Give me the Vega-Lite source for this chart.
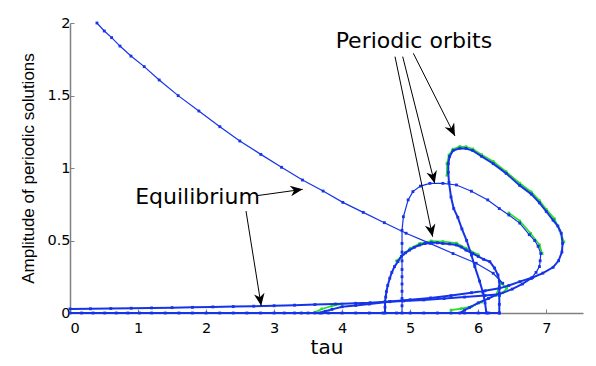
{
  "$schema": "https://vega.github.io/schema/vega-lite/v6.json",
  "autosize": {"type": "none"},
  "padding": {"left": 70, "top": 23, "right": 13, "bottom": 53},
  "width": 513,
  "height": 290,
  "background": "white",
  "config": {
    "view": {"stroke": null},
    "axis": {
      "grid": false,
      "domainColor": "#808080",
      "domainWidth": 1.5,
      "tickColor": "#808080",
      "tickSize": -4,
      "labelColor": "#000000",
      "labelFont": "DejaVu Sans",
      "labelFontSize": 14.5,
      "titleColor": "#000000",
      "titleFontWeight": "normal"
    }
  },
  "datasets": {
    "curves": [
      {"s":"A","x":0.396,"y":2.0},{"s":"A","x":0.504,"y":1.945},{"s":"A","x":0.612,"y":1.899},{"s":"A","x":0.734,"y":1.841},{"s":"A","x":0.896,"y":1.772},{"s":"A","x":1.091,"y":1.699},{"s":"A","x":1.311,"y":1.607},{"s":"A","x":1.59,"y":1.499},{"s":"A","x":1.894,"y":1.393},{"s":"A","x":2.203,"y":1.285},{"s":"A","x":2.496,"y":1.186},{"s":"A","x":2.805,"y":1.094},{"s":"A","x":3.109,"y":1.005},{"s":"A","x":3.417,"y":0.917},{"s":"A","x":3.72,"y":0.841},{"s":"A","x":4.01,"y":0.763},{"s":"A","x":4.31,"y":0.694},{"s":"A","x":4.62,"y":0.623},{"s":"A","x":4.94,"y":0.55},{"s":"A","x":5.29,"y":0.48},{"s":"A","x":5.63,"y":0.41},{"s":"A","x":5.97,"y":0.343},{"s":"A","x":6.22,"y":0.274},{"s":"A","x":6.36,"y":0.205},

      {"s":"E0","x":0,"y":0},{"s":"E0","x":0.17,"y":0},{"s":"E0","x":0.34,"y":0},{"s":"E0","x":0.51,"y":0},{"s":"E0","x":0.68,"y":0},{"s":"E0","x":0.85,"y":0},{"s":"E0","x":1.02,"y":0},{"s":"E0","x":1.2,"y":0},{"s":"E0","x":1.4,"y":0},{"s":"E0","x":1.6,"y":0},{"s":"E0","x":1.8,"y":0},{"s":"E0","x":2.0,"y":0},{"s":"E0","x":2.2,"y":0},{"s":"E0","x":2.4,"y":0},{"s":"E0","x":2.6,"y":0},{"s":"E0","x":2.8,"y":0},{"s":"E0","x":3.0,"y":0},{"s":"E0","x":3.15,"y":0},{"s":"E0","x":3.3,"y":0},{"s":"E0","x":3.4,"y":0},{"s":"E0","x":3.5,"y":0},{"s":"E0","x":3.6,"y":0},{"s":"E0","x":3.7,"y":0},{"s":"E0","x":3.8,"y":0},{"s":"E0","x":4.0,"y":0},{"s":"E0","x":4.2,"y":0},{"s":"E0","x":4.4,"y":0},{"s":"E0","x":4.6,"y":0},{"s":"E0","x":4.8,"y":0},{"s":"E0","x":5.0,"y":0},{"s":"E0","x":5.2,"y":0},{"s":"E0","x":5.4,"y":0},{"s":"E0","x":5.6,"y":0},{"s":"E0","x":5.8,"y":0},{"s":"E0","x":6.0,"y":0},{"s":"E0","x":6.15,"y":0},{"s":"E0","x":6.31,"y":0},

      {"s":"E1","x":0,"y":0.028},{"s":"E1","x":0.3,"y":0.029},{"s":"E1","x":0.6,"y":0.031},{"s":"E1","x":0.9,"y":0.033},{"s":"E1","x":1.2,"y":0.035},{"s":"E1","x":1.5,"y":0.037},{"s":"E1","x":1.8,"y":0.039},{"s":"E1","x":2.1,"y":0.042},{"s":"E1","x":2.4,"y":0.044},{"s":"E1","x":2.7,"y":0.047},{"s":"E1","x":3.0,"y":0.05},{"s":"E1","x":3.3,"y":0.054},{"s":"E1","x":3.6,"y":0.058},{"s":"E1","x":3.9,"y":0.062},{"s":"E1","x":4.2,"y":0.067},{"s":"E1","x":4.41,"y":0.071},{"s":"E1","x":4.7,"y":0.08},{"s":"E1","x":5.0,"y":0.091},{"s":"E1","x":5.3,"y":0.104},{"s":"E1","x":5.6,"y":0.12},{"s":"E1","x":5.9,"y":0.14},{"s":"E1","x":6.1,"y":0.153},{"s":"E1","x":6.31,"y":0.17},{"s":"E1","x":6.45,"y":0.19},{"s":"E1","x":6.61,"y":0.216},{"s":"E1","x":6.8,"y":0.245},{"s":"E1","x":6.95,"y":0.275},{"s":"E1","x":7.1,"y":0.315},{"s":"E1","x":7.18,"y":0.36},{"s":"E1","x":7.23,"y":0.42},{"s":"E1","x":7.24,"y":0.48},{"s":"E1","x":7.22,"y":0.55},{"s":"E1","x":7.17,"y":0.6},{"s":"E1","x":7.1,"y":0.64},{"s":"E1","x":7.0,"y":0.70},{"s":"E1","x":6.9,"y":0.76},{"s":"E1","x":6.78,"y":0.82},{"s":"E1","x":6.61,"y":0.88},{"s":"E1","x":6.41,"y":0.963},{"s":"E1","x":6.22,"y":1.03},{"s":"E1","x":6.05,"y":1.08},{"s":"E1","x":5.92,"y":1.12},{"s":"E1","x":5.82,"y":1.135},{"s":"E1","x":5.73,"y":1.136},{"s":"E1","x":5.63,"y":1.12},{"s":"E1","x":5.58,"y":1.08},{"s":"E1","x":5.56,"y":1.03},{"s":"E1","x":5.56,"y":0.97},{"s":"E1","x":5.57,"y":0.9},{"s":"E1","x":5.6,"y":0.8},{"s":"E1","x":5.64,"y":0.72},{"s":"E1","x":5.7,"y":0.66},{"s":"E1","x":5.76,"y":0.58},{"s":"E1","x":5.83,"y":0.5},{"s":"E1","x":5.9,"y":0.4},{"s":"E1","x":5.95,"y":0.32},{"s":"E1","x":6.02,"y":0.22},{"s":"E1","x":6.07,"y":0.14},{"s":"E1","x":6.1,"y":0.07},{"s":"E1","x":6.12,"y":0.0},

      {"s":"L2","x":4.88,"y":0.0},{"s":"L2","x":4.88,"y":0.05},{"s":"L2","x":4.88,"y":0.1},{"s":"L2","x":4.88,"y":0.15},{"s":"L2","x":4.88,"y":0.2},{"s":"L2","x":4.88,"y":0.25},{"s":"L2","x":4.88,"y":0.3},{"s":"L2","x":4.88,"y":0.36},{"s":"L2","x":4.88,"y":0.42},{"s":"L2","x":4.88,"y":0.48},{"s":"L2","x":4.88,"y":0.57},{"s":"L2","x":4.9,"y":0.664},{"s":"L2","x":4.97,"y":0.78},{"s":"L2","x":5.04,"y":0.837},{"s":"L2","x":5.15,"y":0.875},{"s":"L2","x":5.29,"y":0.894},{"s":"L2","x":5.48,"y":0.894},{"s":"L2","x":5.68,"y":0.883},{"s":"L2","x":5.9,"y":0.84},{"s":"L2","x":6.14,"y":0.78},{"s":"L2","x":6.31,"y":0.72},{"s":"L2","x":6.45,"y":0.676},{"s":"L2","x":6.61,"y":0.62},{"s":"L2","x":6.75,"y":0.54},{"s":"L2","x":6.83,"y":0.5},{"s":"L2","x":6.88,"y":0.46},{"s":"L2","x":6.92,"y":0.41},{"s":"L2","x":6.91,"y":0.36},{"s":"L2","x":6.9,"y":0.32},{"s":"L2","x":6.85,"y":0.28},{"s":"L2","x":6.78,"y":0.24},

      {"s":"E2","x":6.78,"y":0.24},{"s":"E2","x":6.65,"y":0.2},{"s":"E2","x":6.5,"y":0.165},{"s":"E2","x":6.31,"y":0.13},{"s":"E2","x":6.1,"y":0.12},{"s":"E2","x":5.8,"y":0.11},{"s":"E2","x":5.5,"y":0.1},{"s":"E2","x":5.2,"y":0.09},{"s":"E2","x":4.9,"y":0.083},{"s":"E2","x":4.7,"y":0.078},{"s":"E2","x":4.4,"y":0.062},{"s":"E2","x":4.2,"y":0.052},{"s":"E2","x":4.0,"y":0.043},{"s":"E2","x":3.85,"y":0.025},{"s":"E2","x":3.75,"y":0.012},{"s":"E2","x":3.67,"y":0.0},

      {"s":"L3","x":4.63,"y":0.0},{"s":"L3","x":4.63,"y":0.04},{"s":"L3","x":4.63,"y":0.078},{"s":"L3","x":4.64,"y":0.11},{"s":"L3","x":4.65,"y":0.147},{"s":"L3","x":4.67,"y":0.19},{"s":"L3","x":4.7,"y":0.24},{"s":"L3","x":4.73,"y":0.28},{"s":"L3","x":4.77,"y":0.32},{"s":"L3","x":4.82,"y":0.355},{"s":"L3","x":4.87,"y":0.39},{"s":"L3","x":4.93,"y":0.415},{"s":"L3","x":4.99,"y":0.434},{"s":"L3","x":5.06,"y":0.453},{"s":"L3","x":5.14,"y":0.469},{"s":"L3","x":5.22,"y":0.479},{"s":"L3","x":5.31,"y":0.485},{"s":"L3","x":5.4,"y":0.484},{"s":"L3","x":5.48,"y":0.48},{"s":"L3","x":5.58,"y":0.476},{"s":"L3","x":5.68,"y":0.469},{"s":"L3","x":5.75,"y":0.455},{"s":"L3","x":5.82,"y":0.434},{"s":"L3","x":5.92,"y":0.41},{"s":"L3","x":6.0,"y":0.39},{"s":"L3","x":6.08,"y":0.37},{"s":"L3","x":6.17,"y":0.354},{"s":"L3","x":6.24,"y":0.31},{"s":"L3","x":6.29,"y":0.262},{"s":"L3","x":6.31,"y":0.22},{"s":"L3","x":6.31,"y":0.18},{"s":"L3","x":6.31,"y":0.12},{"s":"L3","x":6.31,"y":0.06},{"s":"L3","x":6.31,"y":0.0},

      {"s":"B","x":5.73,"y":0.0},{"s":"B","x":5.8,"y":0.02},{"s":"B","x":5.87,"y":0.037},{"s":"B","x":6.0,"y":0.07},{"s":"B","x":6.15,"y":0.1},{"s":"B","x":6.31,"y":0.136},

      {"s":"G1","x":5.54,"y":0.95},{"s":"G1","x":5.54,"y":1.03},{"s":"G1","x":5.57,"y":1.09},{"s":"G1","x":5.63,"y":1.13},{"s":"G1","x":5.73,"y":1.148},{"s":"G1","x":5.82,"y":1.147},{"s":"G1","x":5.92,"y":1.132},{"s":"G1","x":6.05,"y":1.092},{"s":"G1","x":6.22,"y":1.045},{"s":"G1","x":6.41,"y":0.975},{"s":"G1","x":6.61,"y":0.895},{"s":"G1","x":6.78,"y":0.835},{"s":"G1","x":6.9,"y":0.775},{"s":"G1","x":7.0,"y":0.715},{"s":"G1","x":7.12,"y":0.65},{"s":"G1","x":7.2,"y":0.57},{"s":"G1","x":7.26,"y":0.49},
      {"s":"G2","x":6.45,"y":0.69},{"s":"G2","x":6.61,"y":0.635},{"s":"G2","x":6.77,"y":0.55},{"s":"G2","x":6.9,"y":0.47},{"s":"G2","x":6.94,"y":0.41},
      {"s":"G3","x":4.8,"y":0.36},{"s":"G3","x":4.9,"y":0.405},{"s":"G3","x":5.0,"y":0.445},{"s":"G3","x":5.14,"y":0.48},{"s":"G3","x":5.31,"y":0.497},{"s":"G3","x":5.48,"y":0.493},{"s":"G3","x":5.68,"y":0.482},{"s":"G3","x":5.82,"y":0.447},{"s":"G3","x":6.0,"y":0.402},
      {"s":"G4","x":3.6,"y":0.005},{"s":"G4","x":3.7,"y":0.028},{"s":"G4","x":3.85,"y":0.048},{"s":"G4","x":4.0,"y":0.062},
      {"s":"G5","x":5.6,"y":0.02},{"s":"G5","x":5.75,"y":0.03},{"s":"G5","x":5.9,"y":0.045},{"s":"G5","x":6.05,"y":0.075},
      {"s":"G6","x":6.26,"y":0.12},{"s":"G6","x":6.33,"y":0.21},{"s":"G6","x":6.42,"y":0.17},{"s":"G6","x":6.36,"y":0.14}
    ],
    "arrows": [
      {"x":2.76,"y":0.81,"x2":3.42,"y2":0.853},
      {"x":2.587,"y":0.703,"x2":2.81,"y2":0.05},
      {"x":4.777,"y":1.768,"x2":5.33,"y2":0.526},
      {"x":4.89,"y":1.768,"x2":5.36,"y2":0.894},
      {"x":5.046,"y":1.791,"x2":5.658,"y2":1.221}
    ],
    "labels": [
      {"x":5.054,"y":1.828,"text":"Periodic orbits"},
      {"x":1.874,"y":0.752,"text":"Equilibrium"}
    ]
  },
  "encoding": {
    "x": {"field":"x","type":"quantitative","scale":{"domain":[0,7.54],"nice":false,"zero":false},
          "axis":{"values":[0,1,2,3,4,5,6,7],"format":"~g","title":"tau","titleFont":"DejaVu Sans","titleFontSize":20,"titleY":40,"titleBaseline":"alphabetic","labelPadding":12}},
    "y": {"field":"y","type":"quantitative","scale":{"domain":[0,2],"nice":false},
          "axis":{"values":[0,0.5,1,1.5,2],"format":"~g","title":"Amplitude of periodic solutions","titleFont":"Liberation Sans","titleFontSize":17,"titleX":-37,"titleY":145,"titleAngle":-90,"titleAlign":"center","titleBaseline":"alphabetic","labelPadding":4}}
  },
  "layer": [
    {
      "data": {"name":"curves"},
      "transform": [{"filter":{"field":"s","oneOf":["G1","G2","G3","G4","G5","G6"]}}],
      "mark": {"type":"line","color":"#22e022","strokeWidth":1.6,"point":{"filled":true,"size":7,"shape":"square","color":"#22e022"}},
      "encoding": {"detail":{"field":"s"},"order":{"value":null}}
    },
    {
      "data": {"name":"curves"},
      "transform": [{"filter":{"field":"s","oneOf":["E0","E1","E2","L3","B"]}}],
      "mark": {"type":"line","color":"#1533e8","strokeWidth":2,"point":{"filled":true,"size":8,"shape":"square","color":"#1533e8"}},
      "encoding": {"detail":{"field":"s"},"order":{"value":null}}
    },
    {
      "data": {"name":"curves"},
      "transform": [{"filter":{"field":"s","oneOf":["A","L2"]}}],
      "mark": {"type":"line","color":"#1533e8","strokeWidth":1.2,"point":{"filled":true,"size":8,"shape":"square","color":"#1533e8"}},
      "encoding": {"detail":{"field":"s"},"order":{"value":null}}
    },
    {
      "data": {"name":"arrows"},
      "mark": {"type":"rule","color":"#000000","strokeWidth":1},
      "encoding": {"x2":{"field":"x2"},"y2":{"field":"y2"}}
    },
    {
      "data": {"name":"arrows"},
      "transform": [{"calculate":"atan2((datum.x2-datum.x)*68.04,(datum.y2-datum.y)*145)*180/PI","as":"ang"}],
      "mark": {"type":"point","filled":true,"color":"#000000","opacity":1,"shape":"M0,0L0.65,1.5L0,1.05L-0.65,1.5Z","size":270},
      "encoding": {"x":{"field":"x2","type":"quantitative"},"y":{"field":"y2","type":"quantitative"},"angle":{"field":"ang","type":"quantitative","scale":null}}
    },
    {
      "data": {"name":"labels"},
      "mark": {"type":"text","font":"DejaVu Sans","fontSize":22,"color":"#000000","align":"center","baseline":"alphabetic"},
      "encoding": {"text":{"field":"text"}}
    }
  ]
}
